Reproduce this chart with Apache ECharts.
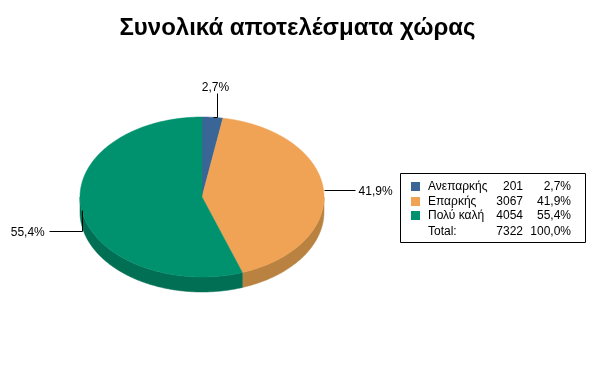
<!DOCTYPE html>
<html><head><meta charset="utf-8">
<script src="https://cdn.jsdelivr.net/npm/echarts@6/dist/echarts.min.js"></script>
<style>html,body{margin:0;padding:0;background:#fff}#c{width:595px;height:379px}</style>
</head><body><div id="c"></div>
<script>
// ---- data ----
const titleText = 'Συνολικά αποτελέσματα χώρας';
const categories = ['Ανεπαρκής', 'Επαρκής', 'Πολύ καλή'];
const values = [201, 3067, 4054];
const totalLabel = 'Total:';

// ---- style / layout ----
const topColors = ['#3a6597', '#f0a354', '#00926e'];
const sideColors = ['#2b4c73', '#b98241', '#006f53'];
const FONT = '"Liberation Sans", Arial, sans-serif';
const geo = { cx: 202, cy: 197, rx: 122, ry: 80, depth: 15 };
const leaders = [
  { dx: 4, up: 24, textAlign: 'center' },
  { right: 31, textAlign: 'left' },
  { down: 21, left: 33, textAlign: 'right' }
];

const total = values.reduce((a, b) => a + b, 0);
const fmtPct = v => (v / total * 100).toFixed(1).replace('.', ',') + '%';
const angles = [];
{
  let acc = 0;
  values.forEach(v => { const s = acc / total * 360; acc += v; angles.push([s, acc / total * 360]); });
}
function pt(deg, dy) {
  const r = deg * Math.PI / 180;
  return [geo.cx + geo.rx * Math.sin(r), geo.cy - geo.ry * Math.cos(r) + (dy || 0)];
}
function arcPts(a0, a1, dy) {
  const pts = [];
  const n = Math.max(2, Math.ceil((a1 - a0) / 0.5));
  for (let i = 0; i <= n; i++) pts.push(pt(a0 + (a1 - a0) * i / n, dy));
  return pts;
}

function renderItem(params, api) {
  const i = params.dataIndex;
  const [a0, a1] = angles[i];
  const children = [];
  const s0 = Math.max(a0, 90), s1 = Math.min(a1, 270);
  if (s1 > s0) {
    const top = arcPts(s0, s1, 0);
    const bot = arcPts(s0, s1, geo.depth).reverse();
    children.push({ type: 'polygon', z2: 1, shape: { points: top.concat(bot) },
      style: { fill: sideColors[i], stroke: sideColors[i], lineWidth: 0.5 } });
  }
  const face = [[geo.cx, geo.cy]].concat(arcPts(a0, a1, 0));
  children.push({ type: 'polygon', z2: 10, shape: { points: face },
    style: { fill: topColors[i], stroke: topColors[i], lineWidth: 0.5 } });
  const mid = (a0 + a1) / 2;
  const [ax, ay] = pt(mid, 0);
  const L = leaders[i];
  let pts, tx, ty;
  if (L.up !== undefined) {
    const x1 = ax + L.dx;
    pts = [[ax, ay], [x1, ay], [x1, ay - L.up]];
    tx = x1 - 1; ty = ay - L.up - 6;
  } else if (L.right !== undefined) {
    pts = [[ax, ay], [ax + L.right, ay]];
    tx = ax + L.right + 4; ty = ay + 1;
  } else {
    pts = [[ax, ay], [ax, ay + L.down], [ax - L.left, ay + L.down]];
    tx = ax - L.left - 4; ty = ay + L.down + 1;
  }
  children.push({ type: 'polyline', z2: 20, shape: { points: pts.map(p => [Math.round(p[0]) + 0.5, Math.round(p[1]) + 0.5]) },
    style: { stroke: '#000', lineWidth: 1, fill: null } });
  children.push({ type: 'text', z2: 20, x: tx, y: ty,
    style: { text: fmtPct(values[i]), fill: '#000', font: '12px ' + FONT, align: L.textAlign, verticalAlign: 'middle' } });
  return { type: 'group', children };
}

const legend = { x: 400.5, y: 173.5, w: 185, h: 69, rowY: [187, 202, 216, 232],
  sqX: 411, textX: 428, numRight: 523, pctRight: 571 };
const legendEls = [{ type: 'rect', shape: { x: legend.x, y: legend.y, width: legend.w, height: legend.h },
  style: { fill: '#fff', stroke: '#000', lineWidth: 1 } }];
categories.forEach((c, i) => {
  const y = legend.rowY[i];
  legendEls.push({ type: 'rect', shape: { x: legend.sqX, y: y - 5, width: 9, height: 9 }, style: { fill: topColors[i] } });
  legendEls.push({ type: 'text', x: legend.textX, y: y, style: { text: c, font: '12px ' + FONT, fill: '#000', verticalAlign: 'middle' } });
  legendEls.push({ type: 'text', x: legend.numRight, y: y, style: { text: String(values[i]), font: '12px ' + FONT, fill: '#000', align: 'right', verticalAlign: 'middle' } });
  legendEls.push({ type: 'text', x: legend.pctRight, y: y, style: { text: fmtPct(values[i]), font: '12px ' + FONT, fill: '#000', align: 'right', verticalAlign: 'middle' } });
});
{
  const y = legend.rowY[3];
  legendEls.push({ type: 'text', x: legend.textX, y: y, style: { text: totalLabel, font: '12px ' + FONT, fill: '#000', verticalAlign: 'middle' } });
  legendEls.push({ type: 'text', x: legend.numRight, y: y, style: { text: String(total), font: '12px ' + FONT, fill: '#000', align: 'right', verticalAlign: 'middle' } });
  legendEls.push({ type: 'text', x: legend.pctRight, y: y, style: { text: (100).toFixed(1).replace('.', ',') + '%', font: '12px ' + FONT, fill: '#000', align: 'right', verticalAlign: 'middle' } });
}

const chart = echarts.init(document.getElementById('c'), null, { renderer: 'canvas' });
chart.setOption({
  animation: false,
  backgroundColor: '#fff',
  title: { text: titleText, left: 'center', top: 11,
    textStyle: { fontSize: 24, fontWeight: 'bold', color: '#000', fontFamily: FONT } },
  series: [{ type: 'custom', coordinateSystem: 'none', renderItem,
    data: values.map((v, i) => ({ name: categories[i], value: v })) }],
  graphic: legendEls
});
</script>
</body></html>
